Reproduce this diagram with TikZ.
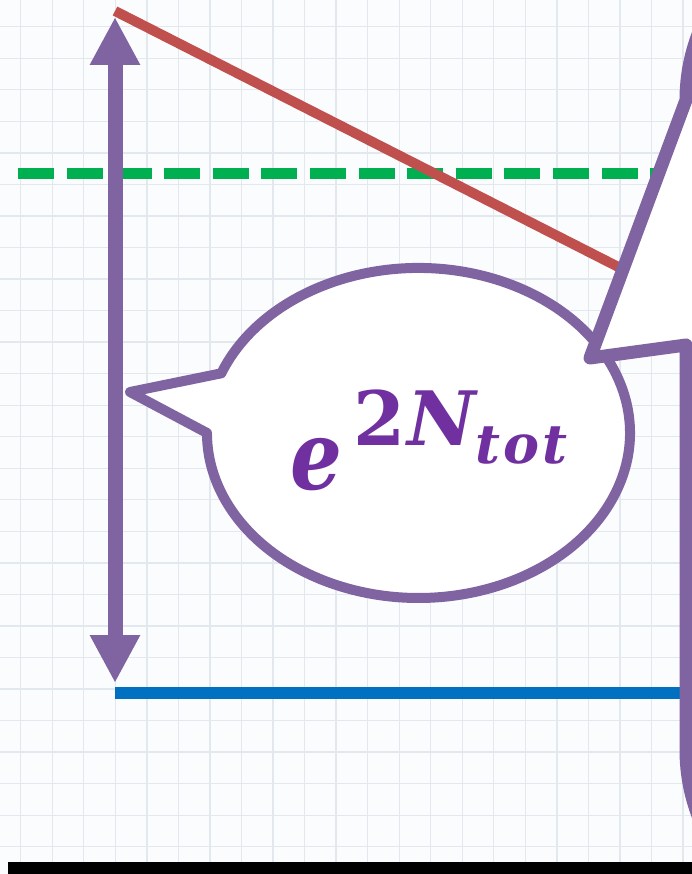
\documentclass[tikz,border=0pt]{standalone}
\usepackage{graphicx}
\usepackage{fontspec}
\newfontfamily\fml{DejaVu Serif}
\usetikzlibrary{arrows.meta}
\definecolor{bgc}{HTML}{FAFCFE}
\definecolor{gridc}{HTML}{E3E8EE}
\definecolor{purp}{HTML}{8064A2}
\definecolor{txtc}{HTML}{7030A0}
\definecolor{redc}{HTML}{C0504D}
\definecolor{greenc}{HTML}{00B050}
\definecolor{bluec}{HTML}{0070C0}
\tikzset{
  gridline/.style={draw=gridc, line width=1.3pt},
  redline/.style={draw=redc, line width=10pt},
  greenline/.style={draw=greenc, line width=11.5pt, dash pattern=on 36pt off 12.6pt},
  blueline/.style={draw=bluec, line width=12pt},
  dimarrow/.style={draw=purp, line width=15pt,
    {Triangle[width=47pt,length=48pt]}-{Triangle[width=47pt,length=48pt]}},
  bubble/.style={draw=purp, fill=white, line width=10pt, line join=round},
  bigcallout/.style={draw=purp, fill=white, line width=13pt, line join=round},
  formula/.style={text=txtc, inner sep=0pt, anchor=base west, font=\fml\bfseries},
}
\begin{document}
\begin{tikzpicture}[x=1pt,y=-1pt]
\useasboundingbox (0,0) rectangle (692,874);
\clip (0,0) rectangle (692,874);
\fill[bgc] (0,0) rectangle (692,874);
\foreach \k in {0,...,21} \draw[gridline] (20.7+31.54*\k,0) -- (20.7+31.54*\k,862);
\foreach \k in {0,...,26} \draw[gridline] (0,26.7+31.54*\k) -- (692,26.7+31.54*\k);
% coordinates
\coordinate (atop) at (115,17);
\coordinate (abot) at (115,683);
\coordinate (rstart) at (115,11);
\coordinate (rend) at (640,278);
\coordinate (gstart) at (18.3,173.3);
\coordinate (gend) at (686,173.3);
\coordinate (bstart) at (115,693);
\coordinate (bend) at (686,693);
% lines
\draw[greenline] (gstart) -- (gend);
\draw[blueline] (bstart) -- (bend);
\draw[dimarrow] (abot) -- (atop);
\draw[redline] (rstart) -- (rend);
% speech bubble
\coordinate (btip) at (130,392);
\filldraw[bubble] (btip) -- (221.3,373.3)
  arc[start angle=201.2, end angle=540, x radius=211.5, y radius=165] -- cycle;
\node[formula] (lbl) at (290,489) {%
  \scalebox{0.85}[1]{\fontsize{96}{96}\selectfont\itshape e}\hspace{11pt}%
  \raisebox{44pt}{\fontsize{75}{75}\selectfont 2\kern2pt\itshape N}%
  \raisebox{26pt}{\fontsize{54}{54}\selectfont\itshape t\kern3pt o\kern3pt t}};
% big callout on the right
\coordinate (ctip) at (590,358);
\filldraw[bigcallout] (1000,-84) -- (870,-84)
  .. controls (768.4,-84) and (686,-1.6) .. (686,100) -- (ctip) -- (686,345)
  -- (686,750) .. controls (686,851.6) and (768.4,934) .. (870,934)
  -- (1000,934) -- cycle;
% bottom bar
\fill[black] (8,862) rectangle (692,874);
\end{tikzpicture}
\end{document}
